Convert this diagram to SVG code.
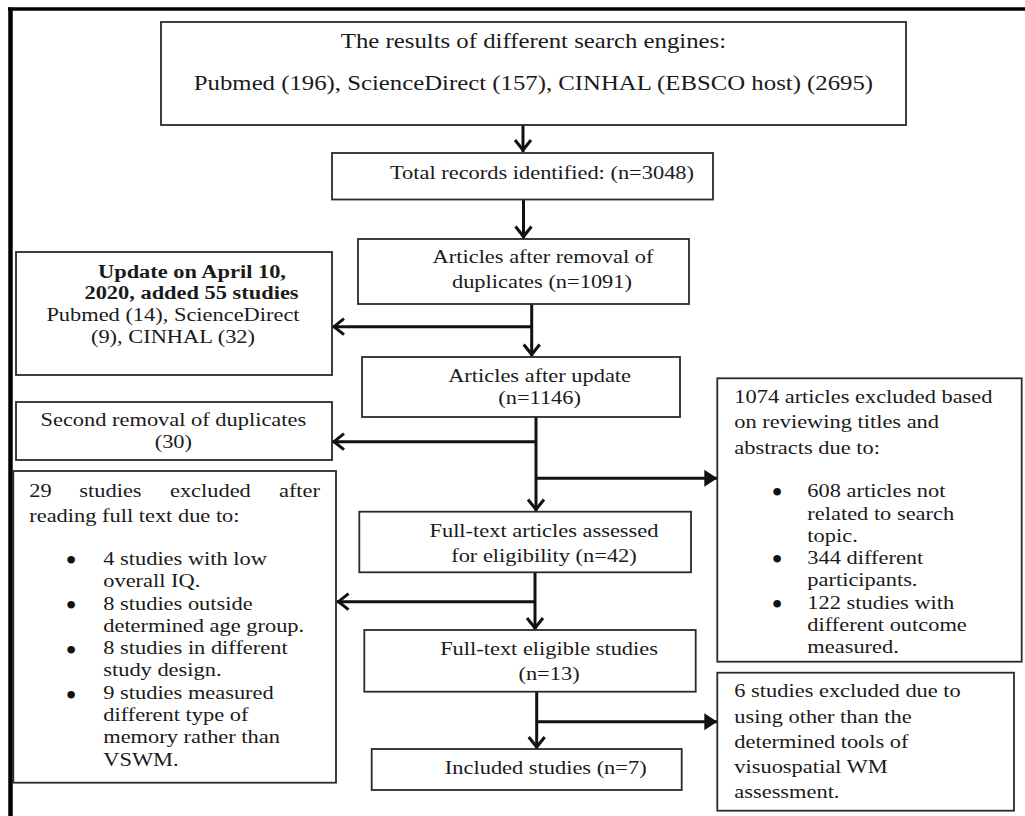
<svg xmlns="http://www.w3.org/2000/svg" width="1025" height="816" viewBox="0 0 1025 816">
<defs>
<style>
.box{fill:#fff;stroke:#2a2a2a;stroke-width:1.8}
.t{font-family:"Liberation Serif","Times New Roman",serif;font-size:19px;fill:#1a1a1a}
.big{font-size:21px}
.c{text-anchor:middle}
.e{text-anchor:end}
.b{font-weight:bold}
.dot{font-family:"Liberation Serif","Times New Roman",serif;font-size:32px;fill:#111;text-anchor:middle}
.ln{fill:none;stroke:#111;stroke-width:3}
.frame{stroke:#000;fill:none}
</style>
<marker id="open" markerUnits="userSpaceOnUse" markerWidth="30" markerHeight="30" refX="2" refY="0" orient="auto" overflow="visible">
<path d="M-10,-8 L0,0 L-10,8" fill="none" stroke="#111" stroke-width="3"/>
</marker>
<marker id="tri" markerUnits="userSpaceOnUse" markerWidth="30" markerHeight="30" refX="0" refY="0" orient="auto" overflow="visible">
<path d="M-13,-8.5 L0,0 L-13,8.5 Z" fill="#111"/>
</marker>
</defs>
<rect width="1025" height="816" fill="#fff"/>
<g id="frame">
<line class="frame" x1="8" y1="9" x2="1025" y2="9" stroke-width="3.5"/>
<line class="frame" x1="10.5" y1="7.5" x2="10.5" y2="816" stroke-width="4.5"/>
</g>
<g id="connectors">
<path class="ln" d="M523,125 V152" marker-end="url(#open)"/>
<path class="ln" d="M523.5,199.5 V238.5" marker-end="url(#open)"/>
<path class="ln" d="M531.7,304 V356.5"  marker-end="url(#open)"/>
<path class="ln" d="M531.7,326.7 H332" marker-end="url(#open)"/>
<path class="ln" d="M536,416.7 V511.5" marker-end="url(#open)"/>
<path class="ln" d="M536,441.7 H332" marker-end="url(#open)"/>
<path class="ln" d="M536,478.3 H714"/>
<path class="ln" d="M712,478.3 H717.3" stroke="none" marker-end="url(#tri)"/>
<path class="ln" d="M535,572.3 V630" marker-end="url(#open)"/>
<path class="ln" d="M535,601.7 H336.5" marker-end="url(#open)"/>
<path class="ln" d="M536.7,691.7 V749" marker-end="url(#open)"/>
<path class="ln" d="M536.7,721.7 H714"/>
<path class="ln" d="M712,721.7 H717.3" stroke="none" marker-end="url(#tri)"/>
</g>
<g id="n-search">
<rect class="box" x="161" y="22" width="745" height="103"/>
<text class="t big c" transform="scale(1.18 1)" x="452.1" y="48">The results of different search engines:</text>
<text class="t big c" transform="scale(1.18 1)" x="452.1" y="90.5">Pubmed (196), ScienceDirect (157), CINHAL (EBSCO host) (2695)</text>
</g>
<g id="n-total">
<rect class="box" x="332" y="153" width="381" height="46.5"/>
<text class="t c" transform="scale(1.18 1)" x="459.3" y="179">Total records identified: (n=3048)</text>
</g>
<g id="n-dedup">
<rect class="box" x="358" y="239" width="331" height="65"/>
<text class="t c" transform="scale(1.18 1)" x="460.2" y="263">Articles after removal of</text>
<text class="t c" transform="scale(1.18 1)" x="459.3" y="288">duplicates (n=1091)</text>
</g>
<g id="n-update">
<rect class="box" x="16" y="252" width="316" height="123"/>
<text class="t c b" transform="scale(1.18 1)" x="162.7" y="278.3">Update on April 10,</text>
<text class="t c b" transform="scale(1.18 1)" x="162.3" y="299.5">2020, added 55 studies</text>
<text class="t c" transform="scale(1.18 1)" x="146.6" y="321.5">Pubmed (14), ScienceDirect</text>
<text class="t c" transform="scale(1.18 1)" x="146.6" y="343.3">(9), CINHAL (32)</text>
</g>
<g id="n-after-update">
<rect class="box" x="362" y="357" width="318" height="60"/>
<text class="t c" transform="scale(1.18 1)" x="457.3" y="381.7">Articles after update</text>
<text class="t c" transform="scale(1.18 1)" x="457.3" y="404.5">(n=1146)</text>
</g>
<g id="n-second-dup">
<rect class="box" x="16" y="402" width="316" height="58"/>
<text class="t c" transform="scale(1.18 1)" x="146.9" y="426">Second removal of duplicates</text>
<text class="t c" transform="scale(1.18 1)" x="146.9" y="448.3">(30)</text>
</g>
<g id="n-excl-title">
<rect class="box" x="717.3" y="378.3" width="304.4" height="283.4"/>
<text class="t" transform="scale(1.18 1)" x="622.3" y="403.3">1074 articles excluded based</text>
<text class="t" transform="scale(1.18 1)" x="622.3" y="428.5">on reviewing titles and</text>
<text class="t" transform="scale(1.18 1)" x="622.3" y="454">abstracts due to:</text>
<text class="dot" x="777" y="502.5">•</text>
<text class="t" transform="scale(1.18 1)" x="684.2" y="497.3">608 articles not</text>
<text class="t" transform="scale(1.18 1)" x="684.2" y="519.6">related to search</text>
<text class="t" transform="scale(1.18 1)" x="684.2" y="541.9">topic.</text>
<text class="dot" x="777" y="569.5">•</text>
<text class="t" transform="scale(1.18 1)" x="684.2" y="564.2">344 different</text>
<text class="t" transform="scale(1.18 1)" x="684.2" y="586.5">participants.</text>
<text class="dot" x="777" y="614.5">•</text>
<text class="t" transform="scale(1.18 1)" x="684.2" y="608.8">122 studies with</text>
<text class="t" transform="scale(1.18 1)" x="684.2" y="631.1">different outcome</text>
<text class="t" transform="scale(1.18 1)" x="684.2" y="653.4">measured.</text>
</g>
<g id="n-fulltext">
<rect class="box" x="359.3" y="511.7" width="331.7" height="60.6"/>
<text class="t c" transform="scale(1.18 1)" x="461" y="536.7">Full-text articles assessed</text>
<text class="t c" transform="scale(1.18 1)" x="461" y="561.7">for eligibility (n=42)</text>
</g>
<g id="n-excl-full">
<rect class="box" x="13.3" y="471" width="322.7" height="311.7"/>
<text class="t" transform="scale(1.18 1)" y="496.7"><tspan x="24.8">29</tspan><tspan x="93.6" text-anchor="middle">studies</tspan><tspan x="178.3" text-anchor="middle">excluded</tspan><tspan x="271.2" text-anchor="end">after</tspan></text>
<text class="t" transform="scale(1.18 1)" x="24.8" y="521.7">reading full text due to:</text>
<text class="dot" x="71.2" y="570.5">•</text>
<text class="t" transform="scale(1.18 1)" x="87.5" y="565">4 studies with low</text>
<text class="t" transform="scale(1.18 1)" x="87.5" y="587.3">overall IQ.</text>
<text class="dot" x="71.2" y="615.5">•</text>
<text class="t" transform="scale(1.18 1)" x="87.5" y="609.6">8 studies outside</text>
<text class="t" transform="scale(1.18 1)" x="87.5" y="631.9">determined age group.</text>
<text class="dot" x="71.2" y="661">•</text>
<text class="t" transform="scale(1.18 1)" x="87.5" y="654.2">8 studies in different</text>
<text class="t" transform="scale(1.18 1)" x="87.5" y="676.5">study design.</text>
<text class="dot" x="71.2" y="706">•</text>
<text class="t" transform="scale(1.18 1)" x="87.5" y="698.8">9 studies measured</text>
<text class="t" transform="scale(1.18 1)" x="87.5" y="721.1">different type of</text>
<text class="t" transform="scale(1.18 1)" x="87.5" y="743.4">memory rather than</text>
<text class="t" transform="scale(1.18 1)" x="87.5" y="765.7">VSWM.</text>
</g>
<g id="n-eligible">
<rect class="box" x="364.3" y="630" width="331.4" height="61.7"/>
<text class="t c" transform="scale(1.18 1)" x="465.3" y="655">Full-text eligible studies</text>
<text class="t c" transform="scale(1.18 1)" x="465.3" y="680">(n=13)</text>
</g>
<g id="n-included">
<rect class="box" x="371.7" y="749" width="310" height="41"/>
<text class="t c" transform="scale(1.18 1)" x="462.5" y="774.3">Included studies (n=7)</text>
</g>
<g id="n-excl-tools">
<rect class="box" x="717.3" y="672.7" width="296.7" height="138"/>
<text class="t" transform="scale(1.18 1)" x="622.3" y="697.3">6 studies excluded due to</text>
<text class="t" transform="scale(1.18 1)" x="622.3" y="722.6">using other than the</text>
<text class="t" transform="scale(1.18 1)" x="622.3" y="747.8">determined tools of</text>
<text class="t" transform="scale(1.18 1)" x="622.3" y="773">visuospatial WM</text>
<text class="t" transform="scale(1.18 1)" x="622.3" y="798.3">assessment.</text>
</g>
</svg>
